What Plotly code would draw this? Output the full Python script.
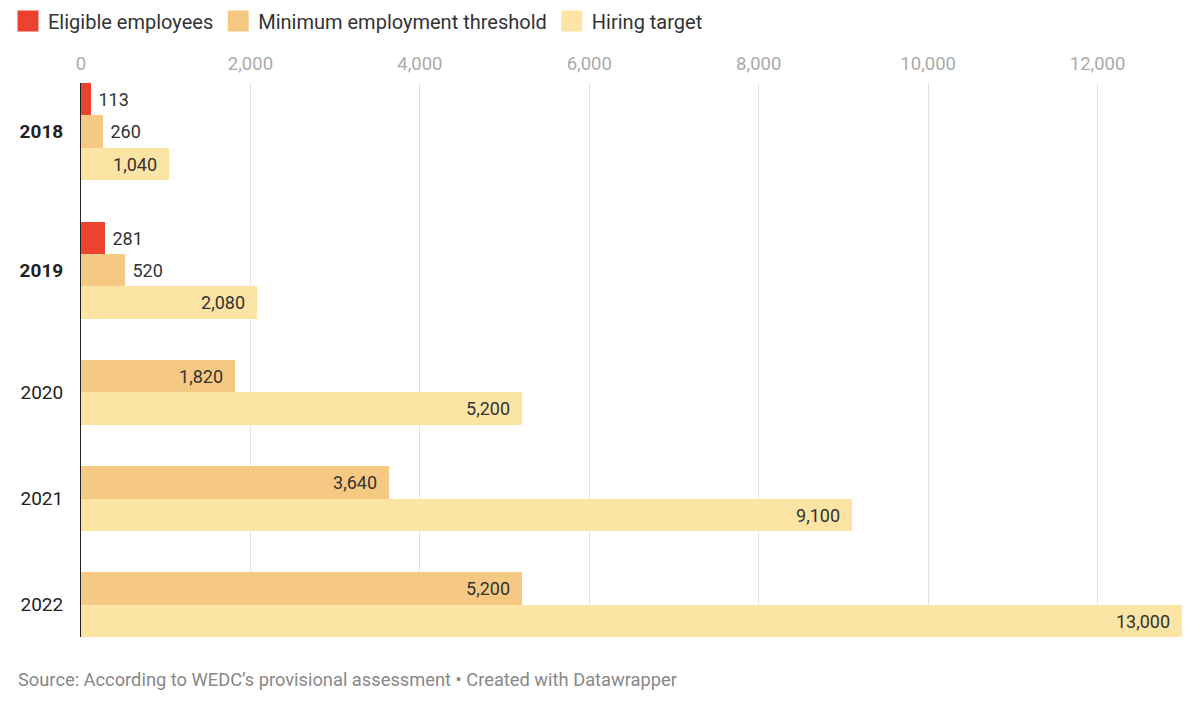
import plotly.graph_objects as go

years = ["2018", "2019", "2020", "2021", "2022"]
bold_years = ["2018", "2019"]
series_names = ["Eligible employees", "Minimum employment threshold", "Hiring target"]
eligible = [113, 281, None, None, None]
minimum = [260, 520, 1820, 3640, 5200]
hiring = [1040, 2080, 5200, 9100, 13000]
x_ticks = [0, 2000, 4000, 6000, 8000, 10000, 12000]
source_text = "Source: According to WEDC\u2019s provisional assessment \u2022 Created with Datawrapper"

colors = ["#ec4330", "#f6c983", "#fbe4a4"]
series_values = [eligible, minimum, hiring]

XMAX = 13020
GAP = 1.27  # gap between groups in bar units

# row layout: each present bar gets its own row, groups separated by GAP
pos = {i: [] for i in range(len(series_values))}
group_centers = []
cursor = 0.0
for gi, yr in enumerate(years):
    rows = []
    for si, vals in enumerate(series_values):
        v = vals[gi]
        if v is not None:
            c = cursor + 0.5
            pos[si].append((c, v))
            rows.append(c)
            cursor += 1
    group_centers.append(sum(rows) / len(rows))
    if gi < len(years) - 1:
        cursor += GAP
total = cursor

W, H = 1192, 693
ML, MR, MT, MB = 73, 16, 75, 64
PW = W - ML - MR
PH = H - MT - MB

fig = go.Figure()
NB = "\u00a0"
for si, name in enumerate(series_names):
    ys = [p[0] for p in pos[si]]
    xs = [p[1] for p in pos[si]]
    tpos, texts = [], []
    for v in xs:
        s = f"{v:,}"
        if v < 0.06 * XMAX:
            tpos.append("outside")
            texts.append(NB + s)
        else:
            tpos.append("inside")
            texts.append(s + NB + NB)
    fig.add_trace(go.Bar(
        x=xs, y=ys, orientation="h", width=1.0,
        marker=dict(color=colors[si], line=dict(width=0)),
        text=texts, textposition=tpos, insidetextanchor="end",
        textfont=dict(size=18, color="#333333", family="Roboto"),
        constraintext="none", cliponaxis=False,
        showlegend=False, name=name, hoverinfo="skip",
    ))
    fig.add_trace(go.Scatter(
        x=[None], y=[None], mode="markers", name=name,
        marker=dict(symbol="square", size=16, color=colors[si],
                    line=dict(width=5, color=colors[si])),
        showlegend=True,
    ))

ticktext = [f"<b>{y}</b>" if y in bold_years else y for y in years]

source_y_px = 671  # centre of source line, from top of figure
fig.update_layout(
    width=W, height=H,
    margin=dict(l=ML, r=MR, t=MT, b=MB, autoexpand=False),
    paper_bgcolor="white", plot_bgcolor="white",
    font=dict(family="Roboto", size=18, color="#222222"),
    bargap=0,
    legend=dict(orientation="h", xref="container", yref="container",
                x=0, xanchor="left", y=1 - 13 / H, yanchor="middle",
                font=dict(size=20, color="#333333"), itemsizing="trace",
                tracegroupgap=0, itemwidth=30),
    xaxis=dict(range=[0, XMAX], side="top", tickvals=x_ticks, tickformat=",",
               showgrid=True, gridcolor="#e3e3e3", gridwidth=1, zeroline=False,
               tickfont=dict(size=18.5, color="#aaaaaa"), ticks="", ticklabelstandoff=8,
               fixedrange=True),
    yaxis=dict(range=[total, 0], tickvals=group_centers, ticktext=ticktext,
               showgrid=False, zeroline=False, showline=True, linecolor="#222222",
               linewidth=1, ticks="", ticklabelstandoff=13,
               tickfont=dict(size=19, color="#222222")),
    annotations=[dict(text=source_text, xref="paper", yref="paper",
                      x=(8 - ML) / PW, xanchor="left",
                      y=-(source_y_px - (MT + PH)) / PH, yanchor="middle",
                      showarrow=False, font=dict(size=18.3, color="#888888"))],
)

fig.write_html("out.html")
